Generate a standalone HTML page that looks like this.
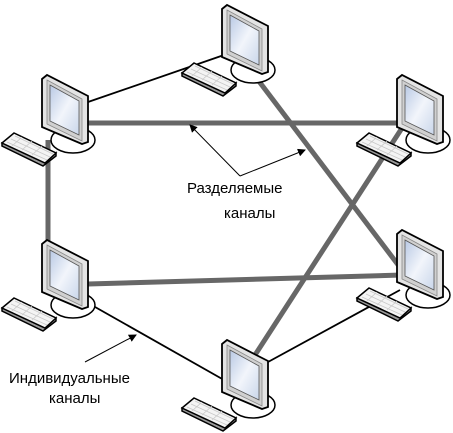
<!DOCTYPE html>
<html><head><meta charset="utf-8"><style>
html,body{margin:0;padding:0;background:#fff;width:453px;height:433px;overflow:hidden}
text{font-family:"Liberation Sans","DejaVu Sans",sans-serif;font-size:15px;fill:#000}
</style></head><body>
<svg width="453" height="433" viewBox="0 0 453 433" xmlns="http://www.w3.org/2000/svg">
<defs>
<linearGradient id="scr" x1="0" y1="0" x2="1" y2="1">
<stop offset="0" stop-color="#b9c9e4"/><stop offset="0.5" stop-color="#f2f5fb"/><stop offset="1" stop-color="#c9d6ea"/>
</linearGradient>
<marker id="ar" markerWidth="8" markerHeight="8" refX="7" refY="4" orient="auto" markerUnits="userSpaceOnUse">
<path d="M0,0 L8,4 L0,8 z" fill="#000"/></marker>
<g id="pc">
<ellipse cx="31" cy="65" rx="22" ry="13" fill="#fff" stroke="#000" stroke-width="1.5"/>
<polygon points="-40,68 -40,71 1,91 14,81 14,78 3,88" fill="#999" stroke="#000" stroke-width="1.5"/>
<polygon points="-40,68 -28,58 14,78 3,88" fill="#f4f4f4" stroke="#000" stroke-width="1.5"/>
<g stroke="#c8c8c8" stroke-width="0.8">
<line x1="-35" y1="67" x2="5" y2="85"/><line x1="-31" y1="64" x2="8" y2="82"/><line x1="-27" y1="61" x2="11" y2="79"/>
<line x1="-20" y1="62" x2="-30" y2="71"/><line x1="-10" y1="66" x2="-20" y2="75"/><line x1="0" y1="71" x2="-10" y2="80"/>
</g>
<polygon points="0,4 5,0 46,21 46,67 40,69 0,52" fill="#e4e4e4" stroke="#000" stroke-width="1.8"/>
<polygon points="5,5 40,24 40,66 5,49" fill="#d0d0d0" stroke="#888" stroke-width="0.8"/>
<polygon points="8,10 37,26 37,60 8,46" fill="url(#scr)" stroke="#555" stroke-width="0.8"/>
</g>
</defs>
<g stroke="#676767" stroke-width="5" fill="none">
<line x1="88" y1="123" x2="402" y2="123"/>
<line x1="48" y1="140" x2="48" y2="248"/>
<line x1="88" y1="284" x2="402" y2="275"/>
<line x1="258" y1="80" x2="402" y2="270"/>
<line x1="402" y1="128" x2="255" y2="355"/>
</g>
<g stroke="#000" stroke-width="1.8" fill="none">
<line x1="88" y1="102" x2="224" y2="55"/>
<line x1="88" y1="303" x2="224" y2="380"/>
<line x1="268" y1="362" x2="400" y2="290"/>
</g>
<g stroke="#000" stroke-width="1" fill="none">
<polyline points="240,176 190,125" marker-end="url(#ar)"/>
<polyline points="240,176 305,150" marker-end="url(#ar)"/>
<polyline points="85,362 136,335" marker-end="url(#ar)"/>
</g>
<use href="#pc" x="42" y="75"/>
<use href="#pc" x="222" y="5"/>
<use href="#pc" x="397" y="75"/>
<use href="#pc" x="42" y="240"/>
<use href="#pc" x="397" y="230"/>
<use href="#pc" x="222" y="340"/>
<text x="187" y="193">Разделяемые</text>
<text x="224" y="218">каналы</text>
<text x="9" y="383">Индивидуальные</text>
<text x="49" y="403">каналы</text>
</svg>
</body></html>
